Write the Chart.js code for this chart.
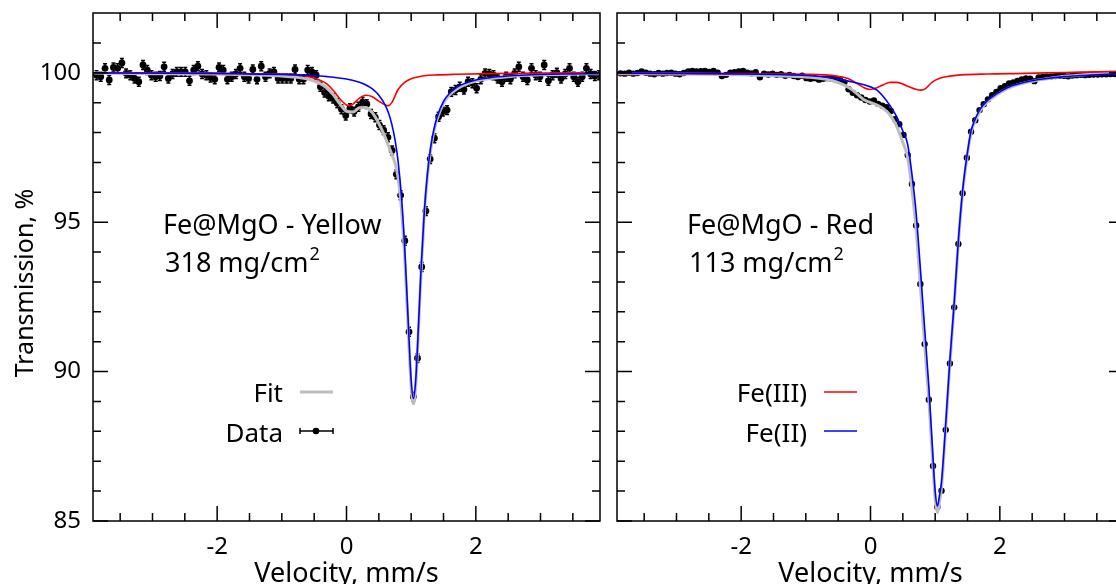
<!DOCTYPE html>
<html>
<head>
<meta charset="utf-8">
<script src="https://cdn.jsdelivr.net/npm/chart.js@4.4.1/dist/chart.umd.min.js"></script>
<style>
  html, body { margin: 0; padding: 0; background: #fff; overflow: hidden; width: 1116px; height: 584px; }
  canvas { position: absolute; top: 0; }
  #chart-yellow { left: 0; }
  #chart-red { left: 607px; }
</style>
</head>
<body>
<canvas id="chart-yellow" width="610" height="584"></canvas>
<canvas id="chart-red" width="530" height="584"></canvas>
<script>
// channel velocities, mm/s (same for both samples)
const VELOCITY = [
  -3.865, -3.800, -3.734, -3.669, -3.604, -3.539, -3.473, -3.408, -3.343, -3.277,
  -3.212, -3.147, -3.081, -3.016, -2.951, -2.886, -2.820, -2.755, -2.690, -2.624,
  -2.559, -2.494, -2.428, -2.363, -2.298, -2.233, -2.167, -2.102, -2.037, -1.971,
  -1.906, -1.841, -1.775, -1.710, -1.645, -1.580, -1.514, -1.449, -1.384, -1.318,
  -1.253, -1.188, -1.122, -1.057, -0.992, -0.927, -0.861, -0.796, -0.731, -0.665,
  -0.600, -0.535, -0.469, -0.404, -0.339, -0.274, -0.208, -0.143, -0.078, -0.012,
   0.053,  0.118,  0.184,  0.249,  0.314,  0.380,  0.445,  0.510,  0.575,  0.641,
   0.706,  0.771,  0.837,  0.902,  0.967,  1.033,  1.098,  1.163,  1.228,  1.294,
   1.359,  1.424,  1.490,  1.555,  1.620,  1.686,  1.751,  1.816,  1.881,  1.947,
   2.012,  2.077,  2.143,  2.208,  2.273,  2.339,  2.404,  2.469,  2.534,  2.600,
   2.665,  2.730,  2.796,  2.861,  2.926,  2.992,  3.057,  3.122,  3.187,  3.253,
   3.318,  3.383,  3.449,  3.514,  3.579,  3.645,  3.710,  3.775,  3.841,  3.906
];

// measured transmission, %
const YELLOW_DATA = [
  99.92, 99.87, 100.15, 99.76, 100.18, 100.15, 100.33, 99.98, 99.92, 99.81,
  99.70, 100.26, 100.09, 99.92, 99.87, 99.89, 100.20, 99.81, 99.96, 100.03,
  100.03, 100.03, 99.73, 100.09, 100.22, 99.96, 99.92, 99.84, 99.78, 100.18,
  100.09, 99.78, 99.87, 99.96, 100.15, 99.87, 99.81, 100.11, 99.78, 100.22,
  99.87, 99.98, 100.03, 99.81, 99.81, 99.81, 99.81, 100.11, 99.78, 99.78,
  100.09, 100.03, 99.92, 99.53, 99.34, 99.21, 99.14, 98.98, 98.78, 98.57,
  98.81, 98.70, 98.86, 99.02, 98.95, 98.62, 98.51, 98.25, 98.08, 97.84,
  97.40, 96.60, 95.90, 94.38, 91.33, 89.16, 90.45, 93.50, 95.37, 97.11,
  97.81, 98.53, 98.70, 98.75, 99.36, 99.42, 99.53, 99.44, 99.70, 99.65,
  99.48, 99.78, 99.98, 99.96, 99.92, 99.81, 99.70, 99.87, 99.78, 99.98,
  100.20, 99.87, 99.76, 100.15, 99.92, 99.87, 100.26, 99.73, 99.92, 100.00,
  99.81, 99.96, 100.15, 99.87, 99.70, 99.87, 100.15, 99.96, 99.89, 99.92
];
const RED_DATA = [
  99.98, 99.97, 100.00, 99.97, 99.99, 100.04, 100.00, 99.97, 99.95, 99.99,
  99.97, 99.99, 100.00, 99.97, 99.95, 99.99, 100.04, 100.06, 100.04, 100.05,
  100.06, 100.03, 100.06, 100.00, 99.89, 99.93, 100.00, 100.02, 100.04, 100.06,
  100.00, 99.98, 100.02, 99.85, 99.97, 99.94, 99.97, 99.93, 99.95, 99.90,
  99.93, 99.89, 99.86, 99.90, 99.82, 99.80, 99.82, 99.77, 99.80, 99.82,
  99.80, 99.79, 99.76, 99.68, 99.45, 99.33, 99.25, 99.17, 99.09, 99.04,
  99.07, 98.96, 98.90, 98.85, 98.72, 98.45, 98.28, 97.92, 97.25, 96.28,
  94.89, 92.93, 90.92, 89.06, 86.84, 85.47, 86.01, 88.05, 90.27, 92.15,
  94.27, 95.97, 97.16, 98.03, 98.41, 98.75, 98.95, 99.11, 99.25, 99.36,
  99.48, 99.55, 99.64, 99.68, 99.73, 99.78, 99.81, 99.80, 99.72, 99.84,
  99.86, 99.87, 99.88, 99.89, 99.90, 99.90, 99.88, 99.91, 99.92, 99.93,
  99.92, 99.93, 99.94, 99.94, 99.95, 99.95, 99.96, 99.96, 99.97, 99.97
];
const YELLOW_ERR = 0.15;
const RED_ERR = 0.03;

// fitted curves, yellow sample
const Y_FE2_V = [-3.9, -3.0, -2.0, -1.5, -1.0, -0.6, -0.3, 0.0, 0.2, 0.3, 0.4, 0.5, 0.6, 0.65, 0.7, 0.75, 0.8, 0.85, 0.9, 0.95,
  1.0, 1.035, 1.07, 1.1, 1.15, 1.2, 1.25, 1.3, 1.35, 1.4, 1.5, 1.6, 1.7, 1.8, 2.0, 2.2, 2.5, 3.0, 3.5, 3.9];
const Y_FE2_T = [99.99, 99.99, 99.98, 99.96, 99.94, 99.91, 99.87, 99.79, 99.68, 99.59, 99.46, 99.25, 98.91, 98.65, 98.28, 97.76, 97.0, 95.85, 94.16, 91.89,
  89.7, 89.1, 89.7, 90.92, 93.31, 95.25, 96.59, 97.49, 98.09, 98.51, 99.04, 99.33, 99.5, 99.62, 99.76, 99.83, 99.89, 99.94, 99.96, 99.97];
const Y_FE3_V = [-3.9, -2.0, -1.2, -0.8, -0.6, -0.4, -0.3, -0.2, -0.1, 0.0, 0.05, 0.1, 0.2, 0.3, 0.4, 0.5, 0.6, 0.65, 0.7, 0.8,
  0.9, 1.0, 1.1, 1.2, 1.4, 1.7, 2.2, 3.0, 3.9];
const Y_FE3_T = [100.0, 99.98, 99.96, 99.93, 99.88, 99.74, 99.62, 99.40, 99.12, 98.92, 98.90, 98.95, 99.15, 99.25, 99.20, 99.05, 98.92, 98.90, 99.0, 99.45,
  99.68, 99.80, 99.86, 99.9, 99.93, 99.95, 99.97, 99.99, 100.0];
const Y_FIT_V = [-3.9, -3.0, -2.0, -1.5, -1.0, -0.6, -0.4, -0.3, -0.2, -0.1, 0.0, 0.1, 0.2, 0.3, 0.4, 0.5, 0.6, 0.65, 0.7, 0.75,
  0.8, 0.85, 0.9, 0.95, 1.0, 1.035, 1.07, 1.1, 1.15, 1.2, 1.25, 1.3, 1.35, 1.4, 1.5, 1.6, 1.7, 1.8, 2.0, 2.2, 2.5, 3.0, 3.5, 3.9];
const Y_FIT_T = [99.99, 99.97, 99.96, 99.93, 99.89, 99.79, 99.63, 99.49, 99.25, 98.95, 98.71, 98.69, 98.83, 98.84, 98.66, 98.30, 97.83, 97.55, 97.28, 96.98,
  96.45, 95.43, 93.84, 91.64, 89.50, 88.92, 89.54, 90.78, 93.19, 95.15, 96.49, 97.40, 98.01, 98.44, 98.98, 99.27, 99.45, 99.57, 99.72, 99.80, 99.87, 99.93, 99.95, 99.97];

// fitted curves, red sample
const R_FE2_V = [-3.9, -3.0, -2.0, -1.5, -1.0, -0.6, -0.3, -0.1, 0.1, 0.2, 0.3, 0.4, 0.5, 0.575, 0.641, 0.706, 0.771, 0.837, 0.902, 0.967,
  1.0, 1.035, 1.07, 1.098, 1.163, 1.228, 1.294, 1.359, 1.424, 1.49, 1.555, 1.6, 1.7, 1.8, 1.9, 2.0, 2.15, 2.4, 2.7, 3.0, 3.4, 3.9];
const R_FE2_T = [99.99, 99.98, 99.96, 99.94, 99.91, 99.83, 99.70, 99.60, 99.42, 99.20, 98.91, 98.55, 98.05, 97.60, 96.60, 95.30, 93.45, 91.45, 89.50, 87.10,
  86.00, 85.50, 85.90, 86.30, 88.25, 90.40, 92.30, 94.40, 96.05, 97.20, 98.05, 98.35, 98.80, 99.05, 99.22, 99.36, 99.53, 99.69, 99.80, 99.87, 99.92, 99.97];
const R_FE3_V = [-3.9, -3.0, -2.0, -1.5, -1.0, -0.7, -0.5, -0.4, -0.3, -0.2, -0.1, 0.0, 0.1, 0.2, 0.3, 0.4, 0.5, 0.6, 0.7, 0.78,
  0.85, 0.95, 1.05, 1.2, 1.4, 1.8, 2.4, 3.0, 3.5, 3.9];
const R_FE3_T = [99.98, 99.98, 99.97, 99.96, 99.95, 99.93, 99.88, 99.84, 99.76, 99.63, 99.50, 99.44, 99.50, 99.60, 99.68, 99.68, 99.62, 99.53, 99.45, 99.42,
  99.47, 99.68, 99.80, 99.88, 99.93, 99.96, 99.98, 100.01, 100.03, 100.05];
const R_FIT_V = R_FE2_V;
const R_FIT_T = [99.97, 99.96, 99.93, 99.90, 99.86, 99.74, 99.46, 99.10, 98.92, 98.80, 98.59, 98.23, 97.67, 97.16, 96.10, 94.75, 92.87, 90.91, 89.08, 86.80,
  85.74, 85.28, 85.70, 86.12, 88.11, 90.28, 92.20, 94.32, 95.98, 97.13, 97.99, 98.29, 98.75, 99.01, 99.18, 99.33, 99.50, 99.67, 99.79, 99.88, 99.95, 100.02];

// axes
const X_RANGE = [-3.92, 3.92];
const Y_RANGE = [85, 102];
const X_MAJOR = [-2, 0, 2];
const X_MINOR = [-3.5, -3, -2.5, -1.5, -1, -0.5, 0.5, 1, 1.5, 2.5, 3, 3.5];
const Y_MAJOR = [85, 90, 95, 100];
const Y_MINOR = [86, 87, 88, 89, 91, 92, 93, 94, 96, 97, 98, 99, 101];

const FONT = '"Noto Sans", "Open Sans", sans-serif';
const C_FE2 = '#0000ff', C_FE3 = '#ff0000', C_FIT = '#bdbdbd';

const pts = (xs, ys) => xs.map((x, i) => ({ x, y: ys[i] }));

// gnuplot style box with inward ticks on all four sides
const frameTicks = {
  id: 'frameTicks',
  afterDatasetsDraw(chart) {
    const { ctx, chartArea: a, scales: { x, y } } = chart;
    ctx.save();
    ctx.strokeStyle = '#000';
    ctx.lineWidth = 1.5;
    ctx.beginPath();
    const xt = (vals, len) => vals.forEach(v => {
      const px = x.getPixelForValue(v);
      ctx.moveTo(px, a.bottom); ctx.lineTo(px, a.bottom - len);
      ctx.moveTo(px, a.top); ctx.lineTo(px, a.top + len);
    });
    const yt = (vals, len) => vals.forEach(v => {
      const py = y.getPixelForValue(v);
      ctx.moveTo(a.left, py); ctx.lineTo(a.left + len, py);
      ctx.moveTo(a.right, py); ctx.lineTo(a.right - len, py);
    });
    xt(X_MAJOR, 15); xt(X_MINOR, 8);
    yt(Y_MAJOR, 15); yt(Y_MINOR, 8);
    ctx.stroke();
    ctx.strokeRect(a.left, a.top, a.right - a.left, a.bottom - a.top);
    ctx.restore();
  }
};

// vertical error bars under the data dots
const errBars = {
  id: 'errBars',
  beforeDatasetsDraw(chart, args, opts) {
    const { ctx, chartArea: a, scales: { x, y } } = chart;
    const ds = chart.data.datasets.find(d => d.label === 'Data');
    if (!ds) return;
    ctx.save();
    ctx.beginPath();
    ctx.rect(a.left, a.top, a.right - a.left, a.bottom - a.top);
    ctx.clip();
    ctx.strokeStyle = '#000';
    ctx.lineWidth = 1.5;
    ctx.beginPath();
    ds.data.forEach(p => {
      const px = x.getPixelForValue(p.x);
      const y1 = y.getPixelForValue(p.y + opts.err), y2 = y.getPixelForValue(p.y - opts.err);
      ctx.moveTo(px, y1); ctx.lineTo(px, y2);
      ctx.moveTo(px - 2, y1); ctx.lineTo(px + 2, y1);
      ctx.moveTo(px - 2, y2); ctx.lineTo(px + 2, y2);
    });
    ctx.stroke();
    ctx.restore();
  }
};

// axis titles, sample annotation and key
const notes = {
  id: 'notes',
  afterDraw(chart, args, o) {
    const { ctx, chartArea: a } = chart;
    ctx.save();
    ctx.fillStyle = '#000';
    ctx.textBaseline = 'alphabetic';

    ctx.font = `27px ${FONT}`;
    ctx.textAlign = 'center';
    ctx.fillText('Velocity, mm/s', (a.left + a.right) / 2, 582);
    if (o.yTitle) {
      ctx.save();
      ctx.font = `25px ${FONT}`;
      ctx.translate(33, 283);
      ctx.rotate(-Math.PI / 2);
      ctx.fillText('Transmission, %', 0, 0);
      ctx.restore();
    }

    ctx.font = `27px ${FONT}`;
    ctx.textAlign = 'left';
    ctx.fillText(o.name, a.left + 70, 234);
    ctx.fillText(o.density, a.left + 72, 272);
    const w = ctx.measureText(o.density).width;
    ctx.font = `18px ${FONT}`;
    ctx.fillText('2', a.left + 72 + w + 1, 260);

    ctx.font = `26px ${FONT}`;
    ctx.textAlign = 'right';
    o.key.forEach((k, i) => {
      const ty = 402 + i * 40, ly = 392 + i * 39;
      ctx.fillText(k.text, a.left + 190, ty);
      ctx.strokeStyle = k.color;
      ctx.lineWidth = k.width;
      ctx.beginPath();
      ctx.moveTo(a.left + 207, ly); ctx.lineTo(a.left + 240, ly);
      if (k.dot) {
        ctx.moveTo(a.left + 207, ly - 3); ctx.lineTo(a.left + 207, ly + 3);
        ctx.moveTo(a.left + 240, ly - 3); ctx.lineTo(a.left + 240, ly + 3);
      }
      ctx.stroke();
      if (k.dot) {
        ctx.beginPath();
        ctx.arc(a.left + 223, ly, 3.3, 0, Math.PI * 2);
        ctx.fill();
      }
    });
    ctx.restore();
  }
};

function noPad(s) {
  s.paddingTop = 0; s.paddingBottom = 0; s.paddingLeft = 0; s.paddingRight = 0;
}

function makePanel(canvasId, p) {
  const ctx = document.getElementById(canvasId).getContext('2d');
  const tickFont = { family: FONT, size: 24 };
  return new Chart(ctx, {
    type: 'scatter',
    data: {
      datasets: [
        { label: 'Fe(II)', data: pts(p.fe2V, p.fe2T), showLine: true, borderColor: C_FE2, borderWidth: 1.6,
          pointRadius: 0, cubicInterpolationMode: 'monotone', order: 1 },
        { label: 'Fe(III)', data: pts(p.fe3V, p.fe3T), showLine: true, borderColor: C_FE3, borderWidth: 1.6,
          pointRadius: 0, cubicInterpolationMode: 'monotone', order: 2 },
        { label: 'Fit', data: pts(p.fitV, p.fitT), showLine: true, borderColor: C_FIT, borderWidth: 3,
          pointRadius: 0, cubicInterpolationMode: 'monotone', order: 3 },
        { label: 'Data', data: pts(VELOCITY, p.data), showLine: false, pointRadius: p.dot,
          pointBackgroundColor: '#000', pointBorderWidth: 0, order: 4 }
      ]
    },
    options: {
      responsive: false,
      animation: false,
      events: [],
      layout: { padding: p.padding },
      plugins: {
        legend: { display: false },
        tooltip: { enabled: false },
        errBars: { err: p.err },
        notes: { yTitle: p.yTitle, name: p.name, density: p.density, key: p.key }
      },
      scales: {
        x: {
          type: 'linear', min: X_RANGE[0], max: X_RANGE[1],
          grid: { display: false, drawTicks: false }, border: { display: false },
          ticks: { font: tickFont, color: '#000', padding: 12, maxRotation: 0, autoSkip: false, callback: v => String(v) },
          afterBuildTicks: s => { s.ticks = X_MAJOR.map(v => ({ value: v })); },
          afterFit: s => { s.height = 63; noPad(s); }
        },
        y: {
          type: 'linear', min: Y_RANGE[0], max: Y_RANGE[1], display: p.yTitle,
          grid: { display: false, drawTicks: false }, border: { display: false },
          ticks: { font: tickFont, color: '#000', padding: 12, autoSkip: false, callback: v => String(v) },
          afterBuildTicks: s => { s.ticks = Y_MAJOR.map(v => ({ value: v })); },
          afterFit: s => { s.width = p.yTitle ? 93 : 0; noPad(s); }
        }
      }
    },
    plugins: [errBars, frameTicks, notes]
  });
}

makePanel('chart-yellow', {
  data: YELLOW_DATA, err: YELLOW_ERR, dot: 3.4,
  fe2V: Y_FE2_V, fe2T: Y_FE2_T, fe3V: Y_FE3_V, fe3T: Y_FE3_T, fitV: Y_FIT_V, fitT: Y_FIT_T,
  padding: { top: 13, right: 10, left: 0, bottom: 0 }, yTitle: true,
  name: 'Fe@MgO - Yellow', density: '318 mg/cm',
  key: [
    { text: 'Fit', color: C_FIT, width: 3, dot: false },
    { text: 'Data', color: '#000', width: 1.5, dot: true }
  ]
});

makePanel('chart-red', {
  data: RED_DATA, err: RED_ERR, dot: 3.2,
  fe2V: R_FE2_V, fe2T: R_FE2_T, fe3V: R_FE3_V, fe3T: R_FE3_T, fitV: R_FIT_V, fitT: R_FIT_T,
  padding: { top: 13, right: 13, left: 10, bottom: 0 }, yTitle: false,
  name: 'Fe@MgO - Red', density: '113 mg/cm',
  key: [
    { text: 'Fe(III)', color: C_FE3, width: 1.6, dot: false },
    { text: 'Fe(II)', color: C_FE2, width: 1.6, dot: false }
  ]
});
</script>
</body>
</html>
